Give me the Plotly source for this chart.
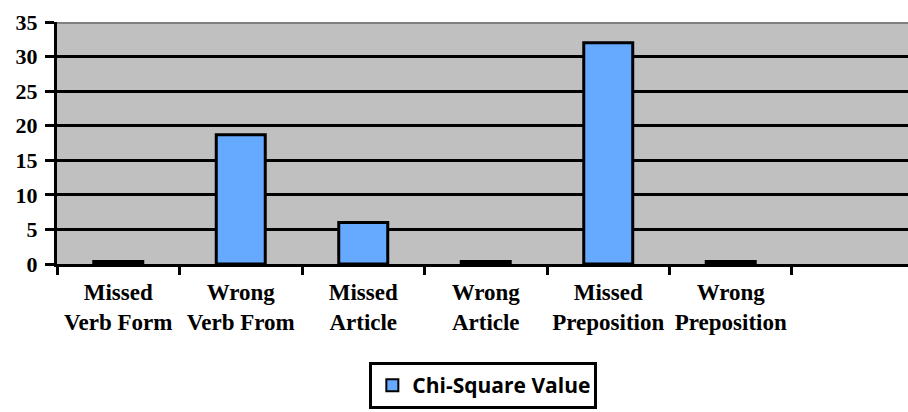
import plotly.graph_objects as go

categories = ["Missed<br>Verb Form", "Wrong<br>Verb From", "Missed<br>Article",
              "Wrong<br>Article", "Missed<br>Preposition", "Wrong<br>Preposition"]
chi_square = [0.35, 18.7, 6.0, 0.35, 32.0, 0.35]
y_ticks = [0, 5, 10, 15, 20, 25, 30, 35]
series_name = "Chi-Square Value"

serif = "Liberation Serif"

fig = go.Figure()
fig.add_trace(go.Bar(
    x=categories, y=chi_square, name=series_name, width=0.4,
    marker=dict(color="#66AAFF", line=dict(color="black", width=3)),
))

fig.update_layout(
    width=908, height=412,
    margin=dict(l=57, r=0, t=22, b=148, autoexpand=False),
    paper_bgcolor="white", plot_bgcolor="#C0C0C0",
    showlegend=True,
    legend=dict(
        x=0.501, xanchor="center", y=-0.405, yanchor="top",
        bordercolor="black", borderwidth=3, bgcolor="white",
        font=dict(family="Open Sans", size=21, color="black", weight="bold"),
        orientation="h", entrywidth=177, itemsizing="constant",
    ),
)
fig.update_xaxes(
    type="category", categoryorder="array", categoryarray=categories,
    range=[-0.5, 6.447], tickson="boundaries", ticks="outside",
    ticklen=8, tickwidth=3, tickcolor="black", tickangle=0,
    ticklabelstandoff=5, automargin=False,
    showline=True, linecolor="black", linewidth=3, showgrid=False,
    tickfont=dict(family=serif, size=23, color="black", weight="bold"),
)
fig.update_yaxes(
    range=[0, 35], tickvals=y_ticks, ticks="outside", ticklen=9,
    tickwidth=3, tickcolor="black", ticklabelstandoff=3, automargin=False,
    showline=True, linecolor="black", linewidth=3,
    showgrid=True, gridcolor="black", gridwidth=3, zeroline=False,
    tickfont=dict(family=serif, size=22, color="black", weight="bold"),
)
fig.add_shape(type="line", xref="paper", yref="y", x0=0, x1=1, y0=35, y1=35,
              line=dict(color="#808080", width=4), layer="above")

fig.write_html("out.html", config={"displayModeBar": False},
               post_script="document.body.style.margin='0';")
